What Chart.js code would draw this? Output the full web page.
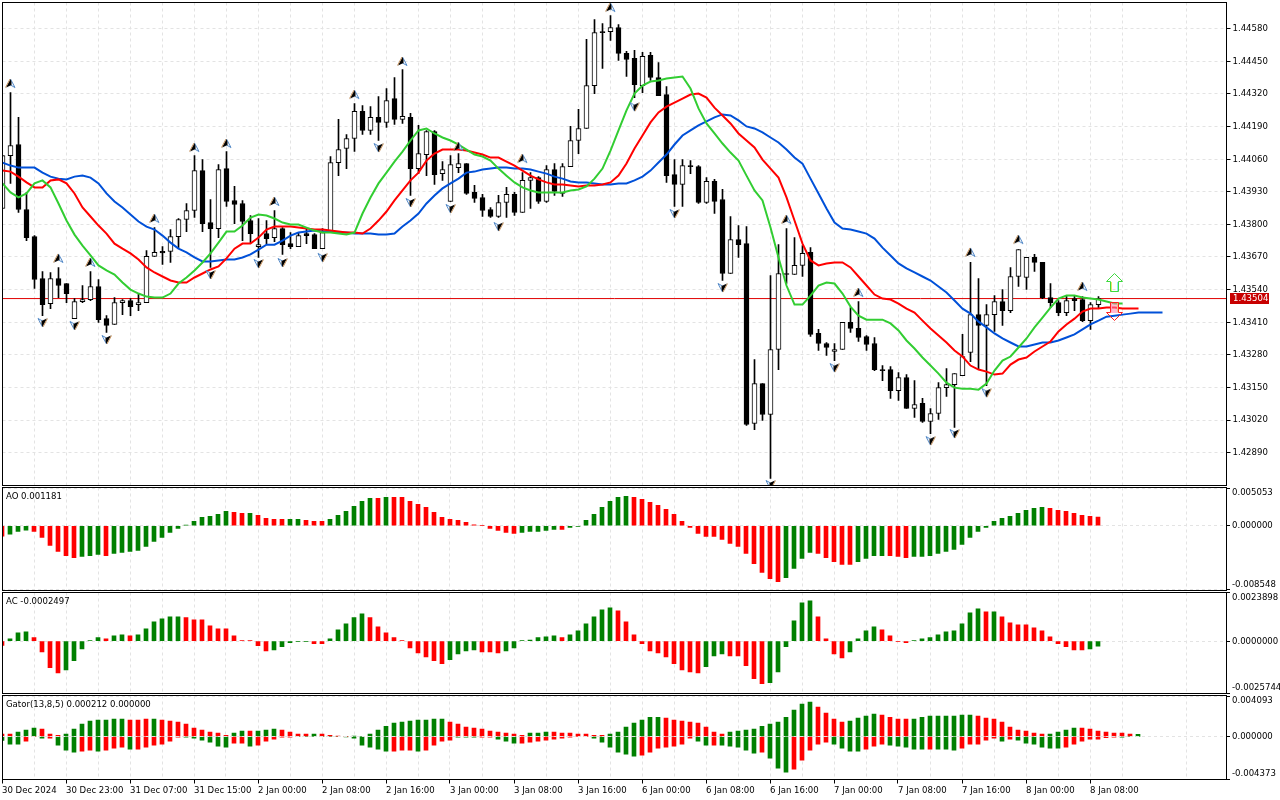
<!DOCTYPE html>
<html>
<head>
<meta charset="utf-8">
<title>Alligator AO AC Gator</title>
<script src="https://cdn.jsdelivr.net/npm/chart.js@4"></script>
<style>
html, body { margin: 0; background: #fff; }
canvas { position: absolute; left: 0; }
</style>
</head>
<body>
<canvas id="mainPane" width="1280" height="487" style="top:0"></canvas>
<canvas id="aoPane" width="1280" height="105" style="top:487px"></canvas>
<canvas id="acPane" width="1280" height="103" style="top:592px"></canvas>
<canvas id="gatorPane" width="1280" height="105" style="top:695px"></canvas>
<script>
// time axis, one label every 8 bars
const xTickLabels = ['30 Dec 2024','30 Dec 23:00','31 Dec 07:00','31 Dec 15:00','2 Jan 00:00','2 Jan 08:00','2 Jan 16:00','3 Jan 00:00','3 Jan 08:00','3 Jan 16:00','6 Jan 00:00','6 Jan 08:00','6 Jan 16:00','7 Jan 00:00','7 Jan 08:00','7 Jan 16:00','8 Jan 00:00','8 Jan 08:00'];

// candles
const opens = [1.43863,1.44074,1.44118,1.43859,1.43751,1.43584,1.43484,1.43584,1.43564,1.43424,1.43492,1.43500,1.43552,1.43424,1.43401,1.43488,1.43496,1.43480,1.43488,1.43672,1.43692,1.43692,1.43751,1.43819,1.43855,1.44014,1.43807,1.43783,1.44022,1.43895,1.43883,1.43815,1.43711,1.43763,1.43747,1.43783,1.43723,1.43711,1.43763,1.43759,1.43703,1.43767,1.44046,1.44102,1.44142,1.44250,1.44174,1.44226,1.44206,1.44301,1.44218,1.44226,1.44022,1.44078,1.44170,1.44002,1.43891,1.44026,1.44042,1.43927,1.43907,1.43859,1.43831,1.43887,1.43919,1.43847,1.43975,1.43986,1.43891,1.44018,1.43923,1.44030,1.44134,1.44182,1.44353,1.44568,1.44568,1.44584,1.44481,1.44461,1.44353,1.44473,1.44385,1.44317,1.43998,1.43959,1.44034,1.44030,1.43887,1.43971,1.43899,1.43604,1.43739,1.43723,1.43006,1.43165,1.43042,1.43301,1.43604,1.43600,1.43636,1.43688,1.43365,1.43325,1.43293,1.43301,1.43409,1.43385,1.43353,1.43325,1.43221,1.43221,1.43137,1.43189,1.43066,1.43086,1.43014,1.43046,1.43149,1.43161,1.43197,1.43289,1.43440,1.43397,1.43440,1.43492,1.43456,1.43592,1.43588,1.43668,1.43648,1.43508,1.43488,1.43448,1.43504,1.43500,1.43416,1.43480];
const highs = [1.44074,1.44325,1.44226,1.43927,1.43755,1.43612,1.43608,1.43628,1.43564,1.43504,1.43556,1.43612,1.43580,1.43436,1.43508,1.43500,1.43504,1.43524,1.43695,1.43787,1.43711,1.43779,1.43823,1.43883,1.44074,1.44058,1.43899,1.44038,1.44090,1.43951,1.43895,1.43835,1.43823,1.43815,1.43855,1.43787,1.43767,1.43767,1.43783,1.43763,1.43783,1.44070,1.44218,1.44158,1.44281,1.44273,1.44269,1.44309,1.44341,1.44385,1.44417,1.44242,1.44194,1.44174,1.44174,1.44050,1.44074,1.44082,1.44042,1.43955,1.43919,1.43867,1.43915,1.43947,1.43927,1.44006,1.44006,1.43990,1.44034,1.44042,1.44042,1.44190,1.44258,1.44537,1.44616,1.44600,1.44632,1.44596,1.44489,1.44493,1.44485,1.44485,1.44445,1.44349,1.44058,1.44058,1.44054,1.44034,1.43986,1.43979,1.43939,1.43831,1.43795,1.43791,1.43261,1.43165,1.43596,1.43719,1.43783,1.43747,1.43715,1.43707,1.43381,1.43329,1.43325,1.43409,1.43468,1.43492,1.43357,1.43349,1.43237,1.43233,1.43209,1.43201,1.43177,1.43106,1.43066,1.43169,1.43225,1.43205,1.43361,1.43648,1.43584,1.43480,1.43516,1.43540,1.43628,1.43699,1.43668,1.43680,1.43648,1.43564,1.43496,1.43516,1.43516,1.43512,1.43488,1.43512];
const lows = [1.43863,1.43963,1.43847,1.43735,1.43544,1.43436,1.43464,1.43508,1.43488,1.43424,1.43488,1.43496,1.43409,1.43369,1.43401,1.43440,1.43436,1.43456,1.43488,1.43672,1.43640,1.43648,1.43707,1.43771,1.43827,1.43771,1.43628,1.43747,1.43871,1.43803,1.43735,1.43727,1.43668,1.43723,1.43731,1.43680,1.43703,1.43711,1.43723,1.43703,1.43703,1.43767,1.43994,1.44022,1.44090,1.44158,1.44158,1.44134,1.44186,1.44198,1.44202,1.43915,1.44002,1.43994,1.43959,1.43975,1.43891,1.44006,1.43919,1.43887,1.43831,1.43827,1.43827,1.43827,1.43835,1.43847,1.43863,1.43883,1.43887,1.43915,1.43911,1.44030,1.44082,1.44182,1.44321,1.44421,1.44533,1.44453,1.44389,1.44305,1.44325,1.44373,1.44313,1.43967,1.43871,1.43871,1.44002,1.43883,1.43883,1.43843,1.43576,1.43604,1.43668,1.42998,1.42982,1.43018,1.42787,1.43221,1.43564,1.43600,1.43592,1.43353,1.43297,1.43277,1.43257,1.43301,1.43369,1.43333,1.43297,1.43217,1.43177,1.43106,1.43098,1.43066,1.43030,1.43010,1.42966,1.43022,1.43114,1.42990,1.43197,1.43253,1.43225,1.43157,1.43373,1.43397,1.43448,1.43552,1.43540,1.43612,1.43504,1.43468,1.43436,1.43436,1.43456,1.43412,1.43381,1.43468];
const closes = [1.44074,1.44114,1.43859,1.43747,1.43580,1.43480,1.43584,1.43556,1.43524,1.43492,1.43500,1.43552,1.43420,1.43397,1.43488,1.43496,1.43472,1.43488,1.43672,1.43688,1.43686,1.43751,1.43819,1.43855,1.44014,1.43803,1.43783,1.44018,1.43891,1.43879,1.43811,1.43763,1.43719,1.43743,1.43783,1.43719,1.43711,1.43755,1.43755,1.43703,1.43767,1.44046,1.44098,1.44142,1.44250,1.44174,1.44226,1.44206,1.44293,1.44218,1.44230,1.44022,1.44082,1.44170,1.43998,1.44018,1.44038,1.44042,1.43923,1.43903,1.43855,1.43831,1.43887,1.43919,1.43847,1.43975,1.43986,1.43891,1.44018,1.43931,1.44030,1.44134,1.44182,1.44353,1.44564,1.44564,1.44584,1.44481,1.44457,1.44357,1.44469,1.44385,1.44313,1.43994,1.43959,1.44034,1.44030,1.43887,1.43971,1.43891,1.43604,1.43739,1.43719,1.43002,1.43165,1.43042,1.43301,1.43604,1.43600,1.43636,1.43684,1.43361,1.43325,1.43309,1.43301,1.43409,1.43385,1.43349,1.43321,1.43221,1.43217,1.43137,1.43189,1.43066,1.43082,1.43014,1.43046,1.43149,1.43161,1.43205,1.43273,1.43440,1.43397,1.43440,1.43492,1.43456,1.43592,1.43699,1.43668,1.43648,1.43508,1.43488,1.43448,1.43496,1.43496,1.43416,1.43480,1.43504];

// alligator lines, they run a few bars past the last candle
const jaw = [1.44046,1.44034,1.44026,1.44026,1.44026,1.44006,1.43990,1.43982,1.43979,1.43990,1.43994,1.43986,1.43963,1.43923,1.43891,1.43867,1.43839,1.43811,1.43791,1.43779,1.43755,1.43727,1.43703,1.43688,1.43668,1.43652,1.43652,1.43656,1.43660,1.43660,1.43668,1.43680,1.43699,1.43719,1.43719,1.43735,1.43755,1.43767,1.43771,1.43775,1.43771,1.43771,1.43767,1.43767,1.43763,1.43763,1.43763,1.43759,1.43759,1.43763,1.43791,1.43815,1.43843,1.43883,1.43915,1.43943,1.43963,1.43982,1.44006,1.44010,1.44018,1.44022,1.44026,1.44026,1.44022,1.44022,1.44018,1.44010,1.44002,1.43990,1.43982,1.43971,1.43967,1.43967,1.43963,1.43959,1.43959,1.43963,1.43963,1.43975,1.43990,1.44014,1.44046,1.44078,1.44118,1.44154,1.44174,1.44194,1.44210,1.44226,1.44238,1.44234,1.44214,1.44190,1.44182,1.44166,1.44146,1.44126,1.44098,1.44066,1.44042,1.43982,1.43923,1.43863,1.43807,1.43783,1.43779,1.43771,1.43763,1.43743,1.43707,1.43676,1.43644,1.43624,1.43608,1.43592,1.43576,1.43552,1.43528,1.43496,1.43464,1.43444,1.43412,1.43389,1.43365,1.43345,1.43329,1.43313,1.43313,1.43321,1.43329,1.43329,1.43337,1.43349,1.43361,1.43381,1.43401,1.43416,1.43432,1.43436,1.43440,1.43444,1.43448,1.43448,1.43448,1.43448];
const teeth = [1.44014,1.44010,1.43990,1.43967,1.43947,1.43947,1.43975,1.43979,1.43963,1.43923,1.43867,1.43831,1.43795,1.43763,1.43723,1.43703,1.43684,1.43660,1.43628,1.43608,1.43592,1.43576,1.43568,1.43568,1.43588,1.43604,1.43620,1.43632,1.43664,1.43703,1.43723,1.43723,1.43747,1.43779,1.43791,1.43791,1.43791,1.43787,1.43783,1.43779,1.43779,1.43775,1.43771,1.43767,1.43767,1.43763,1.43783,1.43815,1.43851,1.43895,1.43935,1.43975,1.44006,1.44054,1.44082,1.44098,1.44098,1.44098,1.44094,1.44086,1.44078,1.44066,1.44066,1.44050,1.44034,1.44014,1.43994,1.43979,1.43967,1.43959,1.43959,1.43955,1.43951,1.43955,1.43955,1.43959,1.43967,1.43994,1.44042,1.44102,1.44154,1.44206,1.44246,1.44269,1.44285,1.44301,1.44317,1.44321,1.44305,1.44265,1.44234,1.44202,1.44162,1.44134,1.44106,1.44058,1.44022,1.43986,1.43907,1.43815,1.43723,1.43656,1.43636,1.43644,1.43648,1.43648,1.43628,1.43592,1.43556,1.43520,1.43504,1.43500,1.43484,1.43464,1.43448,1.43416,1.43385,1.43357,1.43329,1.43297,1.43273,1.43237,1.43221,1.43213,1.43201,1.43205,1.43241,1.43261,1.43269,1.43293,1.43313,1.43333,1.43373,1.43401,1.43424,1.43452,1.43464,1.43464,1.43468,1.43468,1.43464,1.43464,1.43464];
const lips = [1.43963,1.43927,1.43907,1.43923,1.43963,1.43975,1.43947,1.43883,1.43815,1.43759,1.43715,1.43676,1.43636,1.43616,1.43600,1.43568,1.43540,1.43524,1.43512,1.43508,1.43508,1.43524,1.43564,1.43588,1.43616,1.43648,1.43684,1.43727,1.43771,1.43771,1.43795,1.43827,1.43839,1.43835,1.43823,1.43807,1.43799,1.43799,1.43787,1.43775,1.43767,1.43767,1.43763,1.43759,1.43767,1.43843,1.43907,1.43963,1.44006,1.44050,1.44090,1.44134,1.44174,1.44182,1.44162,1.44146,1.44134,1.44118,1.44098,1.44078,1.44070,1.44054,1.44022,1.43994,1.43967,1.43947,1.43935,1.43927,1.43927,1.43927,1.43927,1.43935,1.43939,1.43951,1.43982,1.44022,1.44094,1.44174,1.44254,1.44321,1.44353,1.44369,1.44373,1.44381,1.44385,1.44389,1.44341,1.44262,1.44202,1.44162,1.44122,1.44086,1.44054,1.43994,1.43935,1.43895,1.43787,1.43668,1.43556,1.43480,1.43480,1.43516,1.43556,1.43568,1.43564,1.43524,1.43472,1.43436,1.43420,1.43420,1.43420,1.43405,1.43377,1.43337,1.43305,1.43269,1.43237,1.43205,1.43169,1.43149,1.43145,1.43145,1.43141,1.43165,1.43217,1.43257,1.43273,1.43309,1.43345,1.43389,1.43428,1.43468,1.43504,1.43516,1.43516,1.43508,1.43504,1.43500,1.43492,1.43484,1.43484];

// fractals: bar number and price
const fractalUpBars = [1,7,11,19,24,28,34,44,50,57,65,76,98,107,121,127,135];
const fractalUpPrices = [1.44361,1.43664,1.43648,1.43823,1.44106,1.44122,1.43891,1.44317,1.44449,1.44110,1.44062,1.44664,1.43819,1.43528,1.43688,1.43739,1.43552];
const fractalDownBars = [5,9,13,26,32,35,40,47,51,56,62,79,84,90,96,104,116,119,123];
const fractalDownPrices = [1.43409,1.43397,1.43341,1.43600,1.43644,1.43648,1.43668,1.44106,1.43887,1.43863,1.43791,1.44269,1.43843,1.43548,1.42763,1.43229,1.42938,1.42966,1.43129];

// buy / sell arrows and last price
const arrowBar = 139;
const arrowUpPrice = 1.435681;
const arrowDownPrice = 1.434525;
const lastPrice = 1.43504;

const priceTicks = [1.44580,1.44450,1.44320,1.44190,1.44060,1.43930,1.43800,1.43670,1.43540,1.43410,1.43280,1.43150,1.43020,1.42890];

// AO histogram, r = falling bar, g = rising bar
const aoValues = [-0.0014,-0.00113,-0.00077,-0.00059,-0.00077,-0.00158,-0.00266,-0.00347,-0.00401,-0.00428,-0.00414,-0.00401,-0.00387,-0.00401,-0.00374,-0.0036,-0.00347,-0.00333,-0.00279,-0.00212,-0.00158,-0.0009,-0.00036,0.00009,0.00059,0.00113,0.00126,0.00153,0.00194,0.0018,0.00167,0.00167,0.0014,0.00099,0.00086,0.00086,0.00086,0.00086,0.00072,0.00059,0.00059,0.00086,0.0014,0.00194,0.00261,0.00329,0.00369,0.00369,0.00383,0.00383,0.00383,0.00329,0.00288,0.00248,0.0018,0.00113,0.00086,0.00072,0.00045,0.00014,0.00005,-0.00036,-0.00063,-0.0009,-0.00104,-0.0009,-0.00077,-0.00077,-0.00063,-0.0005,-0.0005,-0.00023,-0.00009,0.00072,0.00153,0.00248,0.00329,0.00383,0.00396,0.00383,0.00356,0.00315,0.00275,0.00221,0.00153,0.00059,-0.00023,-0.00104,-0.00144,-0.00144,-0.00185,-0.00239,-0.00279,-0.00374,-0.00509,-0.0063,-0.00711,-0.00752,-0.00698,-0.00576,-0.00441,-0.0036,-0.00374,-0.00428,-0.00482,-0.00522,-0.00522,-0.00482,-0.00441,-0.00401,-0.00401,-0.00401,-0.00414,-0.00428,-0.00414,-0.00414,-0.00401,-0.00374,-0.00347,-0.0032,-0.00252,-0.00158,-0.00077,-0.00023,0.00059,0.00099,0.00126,0.00167,0.00207,0.00234,0.00248,0.00234,0.00207,0.00194,0.00167,0.0014,0.00126,0.001181];
const aoColors = 'rgggrrrrrrgggrgggggggggggggggrrgrrrrggrrrggggggrgrrrrrrrrrrrrrrrrgggggrggggggggrrrrrrrrrrrrrrrrrrrggggrrrrrggggrrrgggggggggggggggggrrrrrrr';

// AC histogram
const acValues = [-0.00021,0.00012,0.00041,0.00046,0.00017,-0.00053,-0.00132,-0.00157,-0.00142,-0.00097,-0.00038,0.00003,0.00017,0.00012,0.00026,0.00031,0.00026,0.00031,0.00061,0.00096,0.00111,0.0012,0.0012,0.00116,0.00106,0.00106,0.00076,0.00061,0.00061,0.00026,0.00002,0.00002,-0.00023,-0.00048,-0.00043,-0.00028,-0.00008,-0.00002,-0.00002,-0.00013,-0.00013,0.00012,0.00056,0.00086,0.00116,0.00135,0.00116,0.00071,0.00041,0.00017,0.00002,-0.00033,-0.00058,-0.00078,-0.00097,-0.00112,-0.00092,-0.00063,-0.00048,-0.00043,-0.00053,-0.00053,-0.00058,-0.00048,-0.00033,0.00003,0.00005,0.00017,0.00021,0.00026,0.00017,0.00031,0.00051,0.00086,0.0012,0.00155,0.00165,0.0015,0.00096,0.00031,-0.00013,-0.00048,-0.00058,-0.00078,-0.00112,-0.00142,-0.00152,-0.00157,-0.00127,-0.00073,-0.00063,-0.00073,-0.00073,-0.00122,-0.00186,-0.00211,-0.00206,-0.00152,-0.00028,0.00101,0.0019,0.002,0.0012,0.00012,-0.00063,-0.00083,-0.00053,0.00012,0.00051,0.00071,0.00056,0.00026,-0.00002,-0.00008,0.00003,0.00012,0.00017,0.00031,0.00046,0.00051,0.00086,0.0014,0.0016,0.00145,0.00145,0.0012,0.00091,0.00081,0.00081,0.00066,0.00051,0.00021,-0.00013,-0.00028,-0.00043,-0.00043,-0.00038,-0.0002497];
const acColors = 'rgggrrrrgggggrggrggggggrrrrrrrrrrrgggggrrgggggrrrrrrrrrrggggrrrgggggggrggggggrrrrrrrrrrrgggrrrrrggggggrrrrggggrrrrgggggggggrgrrrrrrrrrrrgg';

// gator histogram, upper and lower half
const gatorUpper = [0.00024,0.00024,0.00044,0.00064,0.00084,0.00074,0.00024,0.00013,0.00024,0.00074,0.00125,0.00155,0.00165,0.00165,0.00175,0.00175,0.00165,0.00165,0.00175,0.00175,0.00165,0.00155,0.00145,0.00125,0.00084,0.00064,0.00044,0.00034,0.00013,0.00034,0.00054,0.00054,0.00054,0.00064,0.00074,0.00064,0.00044,0.00024,0.00024,0.00024,0.00024,0.00013,0.00003,0,0.00003,0,0.00024,0.00064,0.00104,0.00135,0.00145,0.00155,0.00165,0.00165,0.00175,0.00175,0.00145,0.00125,0.00094,0.00084,0.00074,0.00054,0.00044,0.00034,0.00024,0.00013,0.00034,0.00034,0.00044,0.00044,0.00034,0.00034,0.00024,0.00024,0.00013,0.00013,0.00024,0.00044,0.00094,0.00135,0.00165,0.00195,0.00195,0.00185,0.00165,0.00155,0.00145,0.00135,0.00094,0.00044,0.00024,0.00044,0.00054,0.00064,0.00074,0.00104,0.00125,0.00145,0.00195,0.00266,0.00327,0.00347,0.00297,0.00236,0.00175,0.00145,0.00155,0.00185,0.00206,0.00226,0.00216,0.00195,0.00175,0.00175,0.00175,0.00195,0.00206,0.00206,0.00206,0.00206,0.00216,0.00216,0.00206,0.00185,0.00175,0.00145,0.00094,0.00064,0.00054,0.00034,0.00024,0.00024,0.00044,0.00064,0.00084,0.00084,0.00074,0.00054,0.00044,0.00034,0.00034,0.00024,0.000212];
const gatorLower = [-0.0004,-0.00078,-0.00078,-0.00047,0,-0.00017,-0.00017,-0.00088,-0.00138,-0.00158,-0.00148,-0.00138,-0.00148,-0.00138,-0.00118,-0.00108,-0.00128,-0.00128,-0.00108,-0.00088,-0.00078,-0.00047,-0.00007,-0.00007,-0.00017,-0.00037,-0.00057,-0.00098,-0.00108,-0.00067,-0.00067,-0.00098,-0.00088,-0.00047,-0.00027,-0.00007,-0.00007,0,0,0,0,0,0,-0.00003,-0.00017,-0.00088,-0.00108,-0.00128,-0.00148,-0.00148,-0.00138,-0.00138,-0.00148,-0.00138,-0.00088,-0.00047,-0.00037,-0.00007,-0.00007,-0.00007,-0.00007,-0.00007,-0.00027,-0.00047,-0.00067,-0.00067,-0.00057,-0.00047,-0.00037,-0.00027,-0.00017,-0.00007,0,0,-0.00017,-0.00057,-0.00108,-0.00158,-0.00179,-0.00199,-0.00189,-0.00158,-0.00118,-0.00108,-0.00098,-0.00078,-0.00017,-0.00047,-0.00088,-0.00088,-0.00088,-0.00098,-0.00108,-0.00138,-0.00169,-0.00158,-0.00219,-0.0032,-0.00361,-0.0033,-0.00239,-0.00138,-0.00078,-0.00057,-0.00078,-0.00118,-0.00148,-0.00148,-0.00128,-0.00098,-0.00078,-0.00088,-0.00098,-0.00108,-0.00128,-0.00128,-0.00128,-0.00128,-0.00128,-0.00138,-0.00118,-0.00078,-0.00078,-0.00037,-0.00017,-0.00047,-0.00027,-0.00037,-0.00067,-0.00078,-0.00108,-0.00118,-0.00118,-0.00108,-0.00078,-0.00047,-0.00027,-0.00027,-0.00013,-0.00007,-0.00007,0,0];
const gatorUpperColors = 'rrgggrrrggggggggrrrgrrrrrrrrrggrgggrrrrgrrrrggggggggggggrrrrrrrrrrgggrrrrrrrgggggggrrrrrrrrgggggggggggrrrrggggrrrrggggggggrrrrrrrrrggggrrrrrrrg';
const gatorLowerColors = 'gggrrgrgggrrgrrrgrrrrrrggggggrrgrrrrrggggggggggggrrrgrrrrgggrrgggrrrrrrrrrggggggrrrrrrrggrgggggrgggrrrrrggggrrrgggggrgggrrrrrgrggggggrrrrrrrggg';

const barColor = { r: '#ff0000', g: '#008000' };
const xMax = 153;
const plotWidth = 1224;

Chart.defaults.font.family = '"DejaVu Sans Condensed", "DejaVu Sans", sans-serif';
Chart.defaults.font.size = 9.5;
Chart.defaults.color = '#000';

function toPoints(values) {
    return values.map((v, i) => ({ x: i, y: v }));
}

// small notched arrowheads used for the fractals, the down one is the up one turned round
function makeFractal(up) {
    const c = document.createElement('canvas');
    c.width = 13;
    c.height = 11;
    const g = c.getContext('2d');
    if (!up) { g.translate(13, 11); g.rotate(Math.PI); }
    g.beginPath(); g.moveTo(6.5, 1); g.lineTo(11, 9.5); g.lineTo(6.5, 7); g.closePath();
    g.fillStyle = '#fff'; g.fill();
    g.strokeStyle = '#4f86c6'; g.lineWidth = 1; g.stroke();
    g.beginPath(); g.moveTo(6.5, 1); g.lineTo(2, 9.5); g.lineTo(7.5, 7); g.lineTo(7.5, 4); g.closePath();
    g.fillStyle = '#000'; g.fill();
    g.beginPath(); g.moveTo(6, 1); g.lineTo(1.5, 9.5);
    g.strokeStyle = '#c4905a'; g.stroke();
    return c;
}

// hollow buy / sell arrow with its coloured inner edges
function makeArrow(up, color, leftEdge, rightEdge, shaft) {
    const c = document.createElement('canvas');
    c.width = 17;
    c.height = 19;
    const g = c.getContext('2d');
    if (!up) { g.translate(0, 19); g.scale(1, -1); }
    if (shaft) { g.fillStyle = shaft; g.fillRect(5, 8, 7, 10); }
    g.lineWidth = 1;
    g.strokeStyle = leftEdge;
    g.beginPath(); g.moveTo(5.5, 9); g.lineTo(5.5, 18); g.stroke();
    g.strokeStyle = rightEdge;
    g.beginPath(); g.moveTo(11.5, 9); g.lineTo(11.5, 18); g.stroke();
    g.beginPath();
    [[8.5, 0.5], [16.5, 8.5], [12.5, 8.5], [12.5, 18.5], [4.5, 18.5], [4.5, 8.5], [0.5, 8.5]].forEach((p, i) => {
        if (i === 0) g.moveTo(p[0], p[1]); else g.lineTo(p[0], p[1]);
    });
    g.closePath();
    g.strokeStyle = color;
    g.stroke();
    return c;
}

// frame, pane caption, nudges the edge labels inside the pane
const panePlugin = {
    id: 'pane',
    beforeDraw(chart) {
        const area = chart.chartArea;
        chart.scales.y.getLabelItems(area).forEach(item => {
            const t = item.options.translation;
            t[1] = Math.max(area.top + 5, Math.min(area.bottom - 6, t[1]));
        });
    },
    afterDraw(chart, args, opts) {
        const ctx = chart.ctx;
        const area = chart.chartArea;
        ctx.save();
        ctx.strokeStyle = '#000';
        ctx.lineWidth = 1;
        const l = Math.floor(area.left) + 0.5, t = Math.floor(area.top) + 0.5;
        ctx.strokeRect(l, t, Math.floor(area.right) + 0.5 - l, Math.floor(area.bottom) + 0.5 - t);
        ctx.font = '9.5px ' + Chart.defaults.font.family;
        ctx.fillStyle = '#000';
        ctx.textBaseline = 'middle';
        if (opts.caption) ctx.fillText(opts.caption, 6, area.top + 9);
        if (opts.tag) {
            const y = chart.scales.y.getPixelForValue(opts.tag);
            ctx.fillStyle = '#c80000';
            ctx.fillRect(1230, Math.floor(y) - 5, 39, 11);
            ctx.fillStyle = '#fff';
            ctx.fillText(opts.tag.toFixed(5), 1233, Math.floor(y) + 0.5);
        }
        ctx.restore();
    }
};

function makePane(id, cfg) {
    return new Chart(document.getElementById(id), {
        type: 'bar',
        data: { datasets: cfg.datasets },
        plugins: [panePlugin],
        options: {
            responsive: false,
            animation: false,
            devicePixelRatio: 1,
            events: [],
            layout: { autoPadding: false, padding: { left: cfg.left, top: cfg.top, right: 0, bottom: 0 } },
            plugins: {
                legend: { display: false },
                tooltip: { enabled: false },
                pane: { caption: cfg.caption, tag: cfg.tag }
            },
            scales: {
                x: {
                    type: 'linear',
                    min: 0,
                    max: xMax,
                    offset: false,
                    afterBuildTicks(s) {
                        s.ticks = [];
                        for (let i = 0; i <= 152; i += 4) s.ticks.push({ value: i });
                    },
                    // no extra room for overhanging labels, the pane sizes are fixed
                    afterFit(s) {
                        s.height = cfg.xHeight;
                        s.paddingLeft = s.paddingRight = s.paddingTop = s.paddingBottom = 0;
                    },
                    ticks: {
                        display: !!cfg.timeAxis,
                        autoSkip: false,
                        maxRotation: 0,
                        align: 'start',
                        padding: 1,
                        callback: v => (v % 8 === 0 ? xTickLabels[v / 8] : '')
                    },
                    grid: {
                        offset: false,
                        color: '#e3e3e3',
                        drawTicks: !!cfg.timeAxis,
                        tickLength: 4,
                        tickColor: c => (c.tick && c.tick.value % 8 === 0 ? '#000' : 'rgba(0,0,0,0)')
                    },
                    border: { display: false, dash: [3, 3] }
                },
                y: {
                    position: 'right',
                    min: cfg.yMin,
                    max: cfg.yMax,
                    afterBuildTicks(s) { s.ticks = cfg.yTicks.map(v => ({ value: v })); },
                    afterFit(s) {
                        s.width = 1280 - cfg.left - plotWidth;
                        s.paddingLeft = s.paddingRight = s.paddingTop = s.paddingBottom = 0;
                    },
                    ticks: {
                        autoSkip: false,
                        padding: 2,
                        callback: v => v.toFixed(cfg.digits)
                    },
                    grid: { color: '#e3e3e3', tickLength: 4, tickColor: '#000' },
                    border: { display: false, dash: [3, 3] }
                }
            }
        }
    });
}

function lineSet(values, color, order) {
    return { type: 'line', data: toPoints(values), borderColor: color, borderWidth: 2, pointRadius: 0, tension: 0, order: order };
}

function histSet(values, flags) {
    return {
        data: toPoints(values),
        backgroundColor: values.map((v, i) => barColor[flags[i]]),
        barThickness: 4,
        grouped: false,
        borderWidth: 0,
        order: 2
    };
}

function markerSet(bars, prices, style) {
    return {
        type: 'line',
        showLine: false,
        data: bars.map((b, i) => ({ x: b, y: prices[i] })),
        pointStyle: style,
        pointRadius: 6,
        order: 0
    };
}

makePane('mainPane', {
    left: 2.5, top: 2.5, xHeight: 1.5, digits: 5,
    yMin: 1.42759, yMax: 1.44684, yTicks: priceTicks, tag: lastPrice,
    datasets: [
        { type: 'line', data: [{ x: 0, y: lastPrice }, { x: xMax, y: lastPrice }], borderColor: '#e00000', borderWidth: 1, pointRadius: 0, order: 6 },
        { data: highs.map((h, i) => ({ x: i, y: [lows[i], h] })), backgroundColor: '#000', barThickness: 1, grouped: false, order: 5 },
        {
            data: opens.map((o, i) => ({ x: i, y: [o, closes[i]] })),
            backgroundColor: opens.map((o, i) => (closes[i] >= o ? '#fff' : '#000')),
            borderColor: '#000', borderWidth: 1, borderSkipped: false,
            barThickness: 5, grouped: false, minBarLength: 1, order: 4
        },
        lineSet(jaw, '#0050d8', 3),
        lineSet(teeth, '#ff0000', 2),
        lineSet(lips, '#32cd32', 1),
        markerSet(fractalUpBars, fractalUpPrices, makeFractal(true)),
        markerSet(fractalDownBars, fractalDownPrices, makeFractal(false)),
        markerSet([arrowBar], [arrowUpPrice], makeArrow(true, '#3fd93f', '#e6e66a', '#8fe8f0')),
        markerSet([arrowBar], [arrowDownPrice], makeArrow(false, '#ff2020', '#ffa0c0', '#f0c080', 'rgba(255,130,170,0.55)'))
    ]
});

makePane('aoPane', {
    left: 2, top: 0.5, xHeight: 1.5, digits: 6,
    yMin: -0.00872, yMax: 0.00516, yTicks: [0.005053, 0, -0.008548],
    caption: 'AO 0.001181',
    datasets: [histSet(aoValues, aoColors)]
});

makePane('acPane', {
    left: 2, top: 0.5, xHeight: 1.5, digits: 7,
    yMin: -0.002593, yMax: 0.002408, yTicks: [0.0023898, 0, -0.0025744],
    caption: 'AC -0.0002497',
    datasets: [histSet(acValues, acColors)]
});

makePane('gatorPane', {
    left: 2, top: 0.5, xHeight: 20.5, digits: 6, timeAxis: true,
    yMin: -0.004346, yMax: 0.004144, yTicks: [0.004093, 0, -0.004373],
    caption: 'Gator(13,8,5) 0.000212 0.000000',
    datasets: [
        histSet(gatorUpper, gatorUpperColors),
        histSet(gatorLower, gatorLowerColors),
        // the zero grid line shows through the gator bars
        { type: 'line', data: [{ x: 0, y: 0 }, { x: xMax, y: 0 }], borderColor: '#e3e3e3', borderWidth: 1, borderDash: [3, 3], pointRadius: 0, order: 1 }
    ]
});
</script>
</body>
</html>
